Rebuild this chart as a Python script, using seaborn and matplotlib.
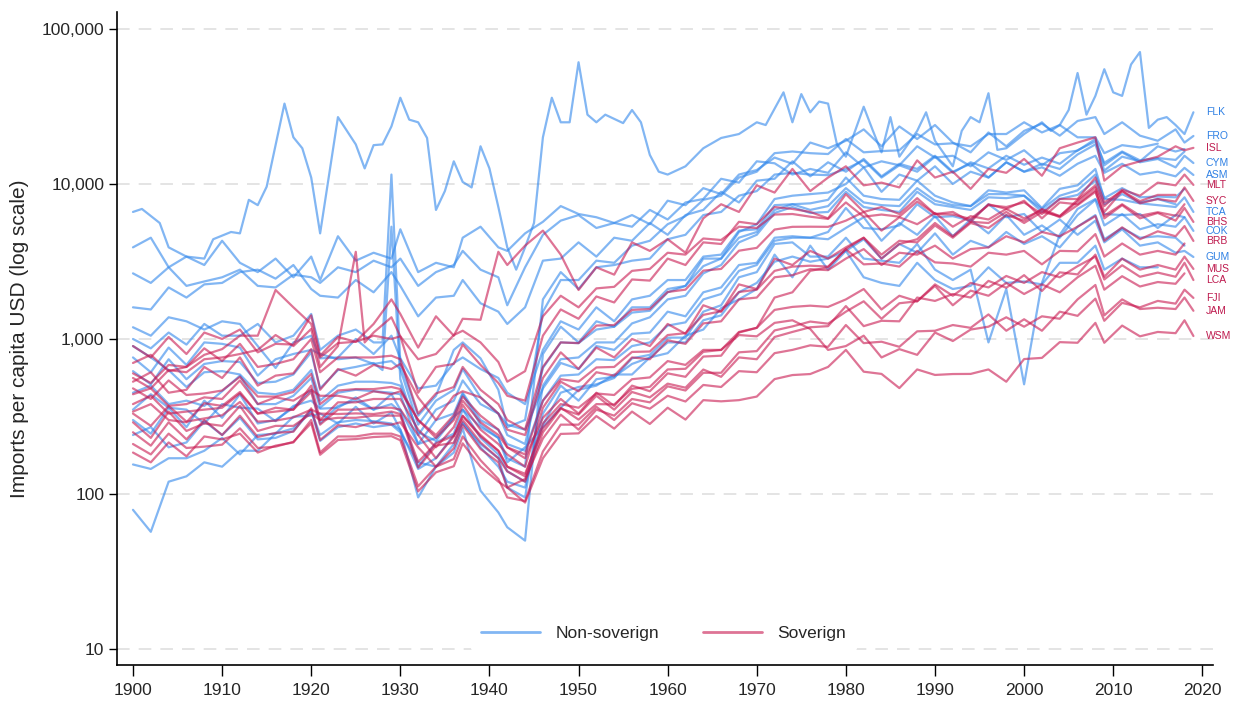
import matplotlib
matplotlib.use("Agg")
import matplotlib.pyplot as plt
import seaborn as sns
import pandas as pd
from matplotlib.lines import Line2D
from matplotlib.ticker import FixedLocator, NullLocator, FixedFormatter

# ---------------- data ----------------
YEARS = [1900, 1902, 1904, 1906, 1908, 1910, 1912, 1914, 1916, 1918, 1920,
         1921, 1923, 1925, 1927, 1929, 1930, 1932, 1934, 1936, 1937, 1939, 1941, 1942, 1944, 1946,
         1948, 1950, 1952, 1954, 1956, 1958, 1960, 1962, 1964, 1966, 1968, 1970, 1972, 1974, 1976, 1978,
         1980, 1982, 1984, 1986, 1988, 1990, 1992, 1994, 1996, 1998, 2000, 2002, 2004, 2006, 2008,
         2009, 2011, 2013, 2015, 2017, 2018, 2019]
YEARS_A = YEARS[:14] + [1928] + YEARS[14:]   # grid with 1928 (spike series)
YEARS_B = YEARS[:13] + [1926] + YEARS[13:]   # grid with 1926 (spike series)

flk_years = [1900, 1901, 1903, 1904, 1906, 1908, 1909, 1911, 1912, 1913, 1914, 1915, 1917, 1918, 1919,
             1920, 1921, 1923, 1925, 1926, 1927, 1928, 1929, 1930, 1931, 1932, 1933, 1934, 1935, 1936,
             1937, 1938, 1939, 1940, 1941, 1942, 1943, 1944, 1945, 1946, 1947, 1948, 1949, 1950, 1951,
             1952, 1953, 1955, 1956, 1957, 1958, 1959, 1960, 1962, 1964, 1966, 1968, 1970, 1971, 1973,
             1974, 1975, 1976, 1977, 1978, 1979, 1980, 1982, 1983, 1984, 1985, 1986, 1988, 1989, 1990,
             1992, 1993, 1994, 1995, 1996, 1997, 1998, 2000, 2002, 2003, 2004, 2005, 2006, 2007, 2008,
             2009, 2010, 2011, 2012, 2013, 2014, 2015, 2016, 2017, 2018, 2019]
flk = [6600, 6900, 5600, 3900, 3400, 3300, 4400, 4900, 4800, 7900, 7300, 9600, 33000, 20000, 17000,
       11000, 4800, 27000, 18000, 12600, 17800, 18000, 23500, 36000, 26000, 25000, 19800, 6800, 9000, 14000,
       10300, 9500, 17500, 12600, 7100, 3900, 2800, 3900, 5600, 20000, 36000, 25000, 25000, 61000, 28000,
       25000, 28000, 24700, 30000, 25000, 15400, 12000, 11500, 13000, 17000, 19800, 21000, 25000, 24000, 39000,
       25000, 38000, 29000, 34000, 33000, 18000, 15000, 31500, 22300, 16000, 27000, 15000, 22000, 29000, 19000,
       13000, 22000, 27000, 25000, 38500, 16600, 17000, 21000, 25000, 22000, 24000, 30000, 52000, 28000, 37000,
       55000, 39000, 37000, 59000, 71000, 23000, 26000, 27000, 24000, 21000, 29000]

fro = [3900, 4500, 2900, 3400, 3000, 4300, 3100, 2700, 3300, 2500, 3400,
       2400, 4600, 3200, 3600, 3300, 5100, 2700, 3100, 2900, 4500, 5300, 3900, 3700, 4800, 5700,
       7200, 6400, 6100, 5600, 6300, 5500, 7800, 7300, 9400, 8600, 11500, 12300, 14800, 13500, 18500, 17000,
       19000, 22500, 17500, 23500, 19500, 24000, 18500, 16000, 21500, 17500, 22000, 24500, 20500, 25500, 27000,
       21000, 25000, 20500, 19000, 22500, 18500, 20400]
cym = [2650, 2300, 2900, 2200, 2350, 2500, 2800, 2200, 2150, 2600, 2500,
       2300, 2900, 2700, 3200, 2900, 3300, 2200, 2700, 3000, 3700, 2800, 2500, 1650, 2900, 4700,
       5800, 6300, 5200, 5600, 5300, 6800, 5900, 7600, 8000, 10800, 10200, 14000, 13600, 11500, 12500, 11800,
       16000, 12800, 14000, 13200, 17500, 14800, 15200, 13000, 16000, 14300, 16500, 13200, 15800, 16400, 19500,
       13200, 16000, 13800, 14500, 12800, 15200, 13650]
asm = [1600, 1550, 2150, 1850, 2250, 2300, 2700, 2800, 2450, 3000, 2100,
       1900, 1850, 2400, 2000, 2700, 2200, 1400, 1850, 1900, 2400, 1700, 1500, 1250, 1600, 3200,
       3300, 4200, 3400, 4500, 4300, 5600, 4700, 6300, 6800, 8900, 7600, 10500, 10800, 14000, 11200, 13800,
       12000, 14500, 11200, 13500, 12500, 15200, 12000, 13500, 11000, 13800, 12000, 12800, 11300, 13500, 15200,
       11800, 13500, 11500, 12000, 11200, 12700, 11430]
tca = [1190, 1050, 1380, 1300, 1150, 1300, 1250, 900, 650, 950, 1050,
       750, 760, 1000, 800, 1050, 750, 480, 500, 700, 760, 640, 560, 450, 380, 850,
       1300, 1150, 1600, 1300, 1800, 1900, 2400, 2400, 3400, 3500, 5000, 5100, 7300, 7400, 7500, 7900,
       11000, 8400, 8000, 7900, 10500, 8400, 7600, 7200, 9100, 8800, 9100, 7000, 9300, 9800, 12500,
       8000, 7900, 7500, 7300, 7100, 8200, 6600]
cok = [760, 610, 880, 680, 950, 930, 880, 580, 740, 800, 850,
       800, 740, 760, 690, 720, 640, 280, 400, 470, 640, 420, 330, 280, 260, 480,
       700, 640, 900, 850, 1080, 1100, 1500, 1400, 2000, 2150, 3000, 3100, 4500, 4600, 4500, 4400,
       5200, 6100, 4300, 5600, 4700, 6200, 4600, 5900, 4800, 6300, 4700, 5400, 4500, 6300, 7900,
       5400, 6400, 5100, 5500, 5300, 6100, 4980]
gum = [450, 500, 380, 400, 370, 460, 580, 380, 380, 430, 560,
       360, 450, 470, 460, 450, 440, 210, 300, 330, 450, 300, 260, 210, 190, 400,
       580, 590, 740, 730, 900, 950, 1220, 1280, 1800, 1950, 2750, 3000, 4300, 4500, 4500, 4900,
       7000, 5200, 5100, 5400, 7400, 6100, 6200, 5800, 7400, 6100, 6400, 4900, 5900, 4700, 5800,
       4200, 5100, 4000, 4200, 3600, 3700, 3380]
nsov_a = [79, 57, 120, 130, 160, 150, 190, 190, 245, 265, 345,
          240, 290, 300, 295, 285, 260, 95, 150, 185, 265, 105, 76, 61, 50, 800,
          1200, 950, 1300, 1200, 1600, 1600, 2100, 2200, 3300, 3300, 4900, 5500, 8000, 8400, 8600, 8800,
          10000, 12800, 8900, 11500, 10500, 13000, 10000, 12000, 11000, 13800, 12000, 13500, 12500, 15500, 18000,
          12200, 15000, 14000, 17500, 16200, 16800, None]
nsov_b = [300, 245, 360, 270, 400, 310, 440, 285, 300, 360, 470,
          285, 370, 400, 350, 380, 340, 150, 215, 245, 350, 230, 180, 140, 120, 280,
          450, 490, 510, 560, 750, 790, 1020, 1020, 1500, 1650, 2500, 2700, 4100, 4200, 3400, 3400,
          4500, 3300, 3200, 3100, 4100, 2800, 2400, 2800, 950, 2100, 510, 2300, 4700, 6900, 8000,
          6400, 6300, 6400, 5200, 6300, 6100, None]
nsov_c = [1000, 870, 1100, 920, 1250, 1050, 1050, 1250, 950, 1050, 1450,
          850, 1050, 1150, 950, 950, 11500, 700, 320, 430, 850, 950, 750, 470, 270, 300, 1500,
          2400, 2400, 3200, 3100, 4000, 4300, 5500, 6200, 7900, 8400, 11000, 12000, 15800, 16200, 15800, 15600,
          19500, 16000, 16300, 16500, 21000, 18000, 18300, 17500, 21000, 21000, 25000, 21500, 24000, 20000, 20000,
          15800, 17800, 17200, 18200, None, None, None]
nsov_d = [620, 510, 740, 550, 690, 720, 710, 520, 530, 590, 820,
          480, 630, 660, 630, 700, 5300, 550, 240, 350, 400, 540, 380, 330, 240, 210, 650,
          950, 940, 1150, 1200, 1480, 1520, 2000, 2200, 2950, 3300, 4500, 4900, 6800, 7400, 6800, 7200,
          9400, 7600, 7300, 7200, 9400, 7800, 7300, 7200, 8600, 8600, 8400, 6900, 8400, 9100, 11500,
          8100, 9400, 8200, 8300, 8200, 9300, None]
nsov_e = [240, 270, 200, 215, 295, 240, 310, 225, 230, 255, 345,
          220, 270, 285, 270, 280, 250, 160, 150, 210, 290, 200, 150, 120, 110, 330,
          500, 400, 550, 570, 690, 760, 950, 950, 1320, 1420, 2000, 2300, 3150, 3400, 3150, 3300,
          3700, 4400, 3300, 4100, 3600, 4800, 3500, 4300, 3900, 4900, 4100, 4600, 3900, 5300, 6300,
          4400, 5200, 4500, 4600, 4500, 4000, None]
nsov_f = [155, 145, 170, 170, 190, 230, 180, 240, 245, 315, 320,
          330, 285, 365, 285, 335, 260, 145, 170, 240, 285, 210, 170, 110, 95, 500,
          740, 760, 950, 950, 1260, 1380, 1800, 1900, 2650, 3000, 4200, 4700, 6500, 7100, 6500, 6600,
          8900, 7100, 6800, 6600, 8900, 7400, 7100, 6800, 8200, 8100, 8400, 6600, 8000, 8500, 10500,
          7400, 8600, 7600, 8000, 7400, None, None]
nsov_g = [900, 760, 630, 490, 610, 620, 590, 450, 440, 470, 630,
          400, 500, 530, 530, 520, 500, 250, 220, 310, 440, 280, 230, 170, 150, 1800,
          2700, 2100, 2900, 3000, 3200, 3300, 4400, 4700, 6300, 6600, 8400, 9000, 11500, 11800, 11500, 11400,
          12500, 14200, 11000, 13200, 12000, 15000, 11800, 13800, 12600, 15200, 13300, 14800, 13500, 16500, 18800,
          13700, 16200, 14200, 14700, 14300, 16200, None]
nsov_h = [350, 440, 360, 350, 285, 380, 360, 355, 295, 370, 400,
          355, 360, 420, 350, 440, 350, 210, 230, 315, 350, 270, 230, 160, 200, 270,
          360, 470, 500, 590, 590, 760, 810, 1050, 1150, 1580, 1800, 2100, 3500, 2500, 4000, 2800,
          3700, 2500, 2300, 2200, 3100, 2400, 2100, 2200, 2900, 2300, 2350, 2250, 3100, 3100, 4000,
          2800, 3300, 2900, 2900, None, None, None]

isl = [600, 520, 680, 660, 790, 860, 1050, 1050, 2070, 1600, 1250,
       760, 940, 960, 1250, 1800, 1450, 880, 1400, 1050, 1350, 1330, 3650, 3000, 4000, 5000,
       3500, 2070, 2900, 2600, 4200, 3700, 4400, 3600, 6000, 7400, 6600, 9800, 8800, 12500, 9000, 11000,
       13000, 9800, 10200, 9500, 14200, 11000, 12000, 9300, 12500, 11800, 14500, 11300, 17000, 18500, 20000,
       10500, 13000, 14000, 15000, 17500, 16500, 17100]
mlt = [530, 610, 450, 470, 660, 560, 760, 500, 580, 600, 860,
       470, 640, 580, 680, 640, 690, 420, 300, 430, 460, 420, 330, 260, 240, 560,
       820, 640, 880, 760, 1000, 900, 1250, 1080, 1650, 1500, 2250, 2100, 3300, 3000, 3700, 3300,
       3900, 4500, 3500, 4300, 4200, 5400, 4500, 5600, 5200, 6300, 5800, 6900, 6200, 7900, 9800,
       7200, 9200, 8400, 10200, 9800, 11500, 9860]
syc = [440, 480, 370, 380, 420, 410, 540, 380, 420, 400, 470,
       430, 430, 410, 460, 440, 460, 300, 230, 300, 400, 290, 240, 200, 170, 310,
       410, 330, 450, 370, 500, 460, 600, 570, 770, 780, 1100, 1180, 1850, 2000, 2750, 2900,
       3800, 4500, 3300, 4100, 4400, 5600, 4600, 5700, 5600, 6600, 5600, 6600, 6200, 7700, 9500,
       6600, 9000, 7500, 8000, 7700, 9500, 7770]
bhs = [900, 760, 1030, 800, 1100, 1000, 1150, 820, 930, 920, 1420,
       780, 1030, 960, 1050, 1000, 1040, 450, 660, 690, 920, 680, 520, 430, 400, 1050,
       1550, 1350, 1880, 1720, 2420, 2380, 3300, 3000, 4200, 4100, 5700, 5500, 7100, 6900, 6600, 6000,
       8600, 6600, 7100, 6400, 8100, 6400, 6600, 5700, 7400, 6900, 7800, 6000, 7600, 7400, 9100,
       6000, 7300, 6000, 6500, 5800, 7000, 5690]
brb = [340, 380, 300, 290, 385, 370, 455, 330, 360, 350, 500,
       300, 390, 390, 410, 410, 410, 260, 200, 270, 375, 260, 210, 180, 150, 360,
       530, 460, 610, 580, 760, 740, 980, 930, 1260, 1300, 1800, 1850, 2500, 2580, 2820, 2780,
       3300, 3800, 3000, 3600, 3500, 4000, 3300, 3800, 3900, 4600, 4200, 4900, 4600, 5300, 6200,
       4300, 5250, 4400, 4950, 4600, 5350, 4290]
mus = [290, 230, 340, 255, 285, 275, 370, 255, 275, 275, 330,
       300, 310, 310, 320, 320, 320, 148, 205, 214, 300, 215, 170, 140, 120, 250,
       355, 325, 430, 350, 455, 420, 515, 485, 635, 570, 760, 740, 1030, 1110, 1190, 1210,
       1630, 1210, 1310, 1300, 1850, 1760, 1950, 1850, 2370, 2140, 2580, 2040, 2690, 2610, 3500,
       2520, 3300, 2800, 3000, 2800, 3400, 2830]
lca = [250, 205, 290, 225, 300, 240, 320, 233, 248, 252, 357,
       223, 278, 270, 290, 280, 290, 200, 150, 197, 278, 195, 160, 110, 125, 228,
       325, 260, 350, 320, 410, 390, 495, 465, 605, 605, 820, 835, 1135, 1205, 1295, 1255,
       1500, 1750, 1350, 1700, 1750, 2250, 1900, 2300, 2150, 2550, 2300, 2700, 2500, 2950, 3400,
       2420, 2990, 2520, 2680, 2520, 3100, 2400]
fji = [185, 160, 215, 175, 235, 225, 245, 185, 205, 215, 300,
       185, 235, 235, 245, 245, 235, 112, 150, 168, 235, 165, 125, 95, 90, 188,
       280, 280, 365, 300, 385, 355, 430, 395, 505, 490, 620, 610, 810, 850, 910, 890,
       1230, 940, 960, 890, 1120, 1130, 1230, 1180, 1440, 1130, 1340, 1130, 1500, 1410, 1820,
       1310, 1710, 1600, 1760, 1690, 2080, 1840]
jam = [380, 430, 330, 340, 350, 360, 445, 330, 340, 350, 455,
       280, 350, 350, 360, 360, 350, 240, 170, 235, 320, 240, 190, 150, 130, 285,
       380, 360, 445, 435, 550, 565, 720, 680, 850, 850, 1060, 1040, 1270, 1320, 1160, 850,
       900, 1050, 760, 860, 790, 1100, 970, 1150, 1200, 1380, 1200, 1400, 1350, 1800, 2230,
       1420, 1800, 1560, 1590, 1560, 1850, 1520]
wsm = [210, 180, 245, 198, 202, 208, 265, 198, 202, 217, 286,
       179, 223, 226, 233, 236, 222, 104, 138, 151, 212, 150, 120, 110, 88, 170,
       244, 246, 318, 264, 340, 283, 360, 302, 403, 396, 403, 425, 551, 585, 594, 660,
       850, 615, 595, 482, 636, 586, 594, 595, 636, 530, 742, 755, 954, 945, 1270,
       945, 1220, 1040, 1110, 1090, 1320, 1045]
sov_a = [560, 480, 630, 610, 740, 760, 800, 850, 1060, 900, 1160,
         660, 900, 950, 3650, 1100, 1380, 1040, 740, 800, 1060, 1130, 950, 710, 530, 620, 1400,
         1900, 1600, 2120, 2170, 2750, 2830, 3600, 3500, 4450, 4350, 5300, 5200, 6350, 6400, 6150, 5950,
         7600, 6150, 6350, 6150, 7700, 6400, 6350, 5950, 7300, 7100, 7600, 6400, 8000, 8000, 11000,
         7600, 9000, 7750, 8500, 8500, None, None]
sov_b = [700, 790, 620, 660, 870, 720, 930, 660, 690, 740, 1000,
         610, 760, 760, 760, 780, 740, 330, 445, 490, 660, 470, 380, 300, 260, 660,
         950, 940, 1220, 1230, 1540, 1560, 2010, 2080, 2760, 2830, 3710, 3870, 5080, 5290, 5300, 5290,
         5800, 6600, 5000, 6100, 5500, 6500, 5300, 6200, 5900, 6900, 6000, 6800, 6100, 7300, 8900,
         6240, 7400, 6240, 6570, 6240, 7400, None]
sov_c = [480, 410, 540, 435, 445, 465, 570, 425, 425, 455, 595,
         380, 465, 475, 475, 490, 475, 300, 240, 322, 425, 320, 260, 200, 180, 400,
         550, 530, 655, 660, 825, 830, 1060, 1090, 1430, 1510, 2010, 2080, 2750, 2930, 2970, 2930,
         3800, 3030, 3070, 2930, 3700, 3120, 3070, 2930, 3600, 3500, 3700, 3030, 3700, 3680, 4750,
         3400, 4130, 3500, 3700, 3500, 4130, None]
sov_d = [330, 275, 370, 293, 307, 322, 392, 293, 297, 312, 350,
         330, 328, 331, 328, 340, 328, 161, 212, 237, 318, 235, 190, 150, 135, 265,
         360, 302, 380, 378, 477, 491, 636, 642, 826, 850, 1110, 1180, 1540, 1610, 1640, 1610,
         1800, 2100, 1550, 1900, 1750, 2200, 1650, 2050, 1900, 2300, 1950, 2250, 2000, 2500, 2970,
         2080, 2540, 2180, 2330, 2270, 2650, None]

NONSOV = "Non-sovereign"
SOV = "Sovereign"
# (code, group, years, values, labelled at end)
SERIES = [
    ("FLK", NONSOV, flk_years, flk, True),
    ("FRO", NONSOV, YEARS, fro, True),
    ("CYM", NONSOV, YEARS, cym, True),
    ("ASM", NONSOV, YEARS, asm, True),
    ("TCA", NONSOV, YEARS, tca, True),
    ("COK", NONSOV, YEARS, cok, True),
    ("GUM", NONSOV, YEARS, gum, True),
    ("n_a", NONSOV, YEARS, nsov_a, False),
    ("n_b", NONSOV, YEARS, nsov_b, False),
    ("n_c", NONSOV, YEARS_A, nsov_c, False),
    ("n_d", NONSOV, YEARS_A, nsov_d, False),
    ("n_e", NONSOV, YEARS, nsov_e, False),
    ("n_f", NONSOV, YEARS, nsov_f, False),
    ("n_g", NONSOV, YEARS, nsov_g, False),
    ("n_h", NONSOV, YEARS, nsov_h, False),
    ("ISL", SOV, YEARS, isl, True),
    ("MLT", SOV, YEARS, mlt, True),
    ("SYC", SOV, YEARS, syc, True),
    ("BHS", SOV, YEARS, bhs, True),
    ("BRB", SOV, YEARS, brb, True),
    ("MUS", SOV, YEARS, mus, True),
    ("LCA", SOV, YEARS, lca, True),
    ("FJI", SOV, YEARS, fji, True),
    ("JAM", SOV, YEARS, jam, True),
    ("WSM", SOV, YEARS, wsm, True),
    ("s_a", SOV, YEARS_B, sov_a, False),
    ("s_b", SOV, YEARS, sov_b, False),
    ("s_c", SOV, YEARS, sov_c, False),
    ("s_d", SOV, YEARS, sov_d, False),
]

rows = []
for code, grp, yrs, vals, lab in SERIES:
    assert len(yrs) == len(vals), (code, len(yrs), len(vals))
    for y, v in zip(yrs, vals):
        if v is not None:
            rows.append((code, grp, y, v))
df = pd.DataFrame(rows, columns=["code", "group", "year", "value"])

# ---------------- style ----------------
BLUE = "#2F86EB"
RED = "#C8174F"
BLUE_TXT = "#2F80E4"
RED_TXT = "#BE1A4E"

sns.set_style("white")
plt.rcParams["font.family"] = ["Liberation Sans", "DejaVu Sans"]

fig = plt.figure(figsize=(12.35, 7.02), dpi=100)
ax = fig.add_axes([0.0947, 0.0527, 0.8875, 0.9303])
ax.set_yscale("log")

for v in [10, 100, 1000, 10000, 100000]:
    ax.axhline(v, color="#e2e2e2", lw=1.3, ls=(0, (7, 5)), zorder=0)

sns.lineplot(data=df, x="year", y="value", hue="group", units="code",
             hue_order=[NONSOV, SOV], palette={NONSOV: BLUE, SOV: RED},
             estimator=None, alpha=0.6, linewidth=1.6, legend=False, ax=ax)

# end labels
for code, grp, yrs, vals, lab in SERIES:
    if lab:
        ax.text(2020.4, vals[-1], code, fontsize=7.5, va="center", ha="left",
                color=BLUE_TXT if grp == NONSOV else RED_TXT, clip_on=False)

ax.set_xlim(1898.2, 2021.2)
ax.set_ylim(7.88, 128800)
ax.yaxis.set_major_locator(FixedLocator([10, 100, 1000, 10000, 100000]))
ax.yaxis.set_major_formatter(FixedFormatter(["10", "100", "1,000", "10,000", "100,000"]))
ax.yaxis.set_minor_locator(NullLocator())
ax.set_xticks(list(range(1900, 2021, 10)))
ax.tick_params(axis="y", length=6, width=1, pad=3, labelsize=12.5, left=True, color="black")
ax.tick_params(axis="x", length=8, width=1, pad=5, labelsize=12.5, bottom=True, color="black")
for lbl in ax.get_xticklabels():
    lbl.set_family(["Liberation Sans Narrow", "Liberation Sans", "DejaVu Sans"])

for s in ["top", "right"]:
    ax.spines[s].set_visible(False)
for s in ["left", "bottom"]:
    ax.spines[s].set_color("black")
    ax.spines[s].set_linewidth(1.2)

ax.set_xlabel("")
ax.set_ylabel("Imports per capita USD (log scale)", fontsize=15, labelpad=9)
ax.grid(False)

handles = [Line2D([], [], color=BLUE, alpha=0.6, lw=2),
           Line2D([], [], color=RED, alpha=0.6, lw=2)]
leg = ax.legend(handles, ["Non-soverign", "Soverign"], loc="center",
                bbox_to_anchor=(0.499, 0.049), ncol=2, frameon=True, facecolor="white",
                edgecolor="none", framealpha=1, fontsize=12.5, handlelength=3.4,
                columnspacing=2.5, handletextpad=0.9, borderpad=0.6)

fig.savefig("out.png", dpi=100)
